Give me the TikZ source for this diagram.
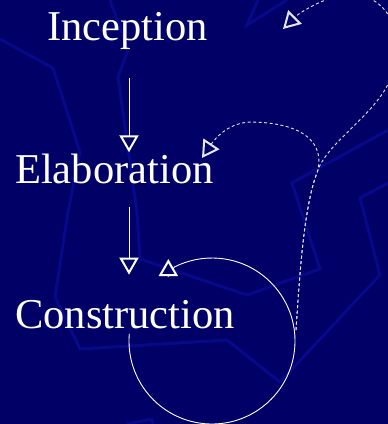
\documentclass[tikz,border=0pt]{standalone}
\usepackage{fontspec}
\setmainfont{Liberation Serif}
\usepackage{tikz}
\usetikzlibrary{arrows.meta, positioning}
\definecolor{nightblue}{RGB}{0,0,102}
\definecolor{shadeblue}{RGB}{8,8,138}
\definecolor{dashwhite}{RGB}{230,230,240}
\tikzset{
  phase/.style={text=white,inner sep=0pt,anchor=base west,
                font=\fontsize{42.5}{50}\selectfont},
  tip/.style={-{Triangle[length=17pt,width=19pt,line width=2pt,fill=nightblue]}},
  arr/.style={tip,draw=white,line width=0.9pt},
  back/.style={tip,draw=dashwhite,line width=0.9pt,dash pattern=on 3pt off 2.5pt},
  shade/.style={draw=shadeblue,line width=3pt},
}

\begin{document}
\begin{tikzpicture}[x=1pt,y=-1pt]
  \fill[nightblue](0,0) rectangle (388,424);
  \clip(0,0) rectangle (388,424);
  % backdrop
  \draw[shade](0,39)--(53,68)--(80,152)--(68,212)--(55,297)--(80,349)--(227,340)
    --(280,382)--(380,275)--(360,198)--(388,183);
  \draw[shade](110,0)--(128,50)--(118,77)--(137,212)--(140,259)--(247,295)
    --(320,269)--(292,183)--(388,130);
  \draw[shade](258,0)--(247,25)--(287,0);
  \draw[shade](127,424)--(152,419)--(153,424);
  % phases
  \node[phase](inc) at (47,40){Inception};
  \node[phase](ela) at (15,183){Elaboration};
  \node[phase](con) at (15,328){Construction};
  \coordinate(col) at (129,0);
  \coordinate(loopC) at (212,341);
  \coordinate(loopR) at (296,330);
  \coordinate(toEla) at (202,158);
  \coordinate(toInc) at (283,29);
  \draw[arr,shorten <=29pt,shorten >=1pt](col |- inc.south)--(col |- ela.north);
  \draw[arr,shorten <=23pt,shorten >=25pt](col |- ela.south)--(col |- con.north);
  % iterations
  \draw[arr](loopC) ++(185:83) arc[start angle=185,end angle=-117,radius=83]
    -- ++(-6,9) -- ++(0,-17);
  \draw[back](loopR) .. controls (300,270) and (304,205) .. (318,170)
    .. controls (324,140) and (300,123) .. (252,122)
    .. controls (230,122) and (216,137) .. (toEla);
  \draw[back](loopR) .. controls (300,270) and (304,205) .. (318,170)
    .. controls (328,142) and (375,115) .. (390,80)
    .. controls (402,50) and (400,5) .. (360,-5)
    .. controls (335,-10) and (300,12) .. (toInc);
\end{tikzpicture}
\end{document}
